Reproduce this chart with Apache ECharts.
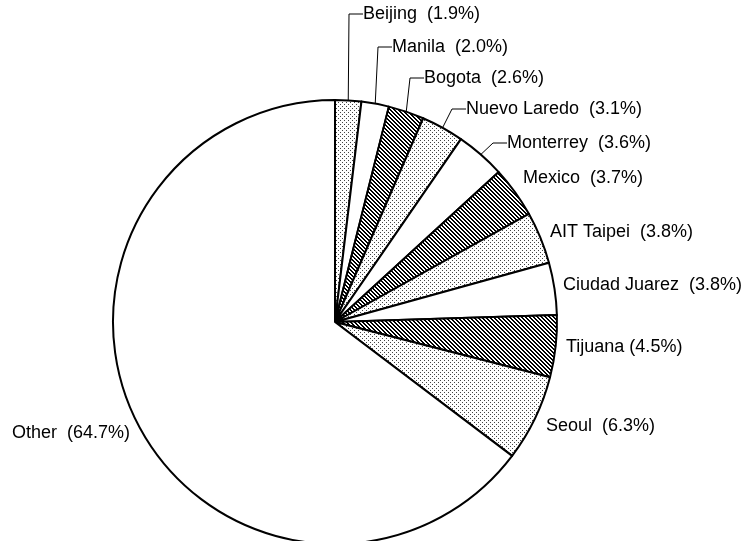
<!DOCTYPE html>
<html>
<head>
<meta charset="utf-8">
<script src="https://cdn.jsdelivr.net/npm/echarts@6/dist/echarts.min.js"></script>
<style>
html,body{margin:0;padding:0;background:#fff;}
#chart{width:745px;height:541px;}
</style>
</head>
<body>
<div id="chart"></div>
<script>
// Data
const categories = ['Beijing','Manila','Bogota','Nuevo Laredo','Monterrey','Mexico','AIT Taipei','Ciudad Juarez','Tijuana','Seoul','Other'];
const shares = [1.9, 2.0, 2.6, 3.1, 3.6, 3.7, 3.8, 3.8, 4.5, 6.3, 64.7];
const fills = ['dots','white','hatch','dots','white','hatch','dots','white','hatch','dots','white'];
const hasLine = [true, true, true, true, true, false, false, false, false, false, false];
const gap = ['  ','  ','  ','  ','  ','  ','  ','  ',' ','  ','  '];
// label anchors (left x, middle y)
const labelAnchor = [[363,14],[392,47],[424,78],[466,109],[507,143],[523,178],[550,232],[563,285],[566,347],[546,426],[12,433]];

function makePattern(kind){
  const c = document.createElement('canvas');
  c.width = 4; c.height = 4;
  const ctx = c.getContext('2d');
  ctx.fillStyle = '#fff';
  ctx.fillRect(0,0,4,4);
  if (kind === 'dots'){
    ctx.fillStyle = '#444';
    ctx.fillRect(0,0,1,1);
    ctx.fillRect(2,2,1,1);
  } else if (kind === 'hatch'){
    ctx.fillStyle = '#000';
    for (let i=0;i<4;i++){ ctx.fillRect(i,i,1,1); ctx.fillRect((i+1)%4,i,1,1); }
  }
  return c;
}
const patterns = { dots: makePattern('dots'), hatch: makePattern('hatch') };

const data = categories.map((name,i)=>({
  name: name,
  value: shares[i],
  itemStyle: { color: fills[i]==='white' ? '#ffffff' : { image: patterns[fills[i]], repeat: 'repeat' } },
  labelLine: { show: hasLine[i] }
}));

const chart = echarts.init(document.getElementById('chart'), null, {renderer:'canvas'});
chart.setOption({
  animation: false,
  backgroundColor: '#fff',
  series: [{
    type: 'pie',
    center: [335, 322],
    radius: 222,
    startAngle: 90,
    clockwise: true,
    avoidLabelOverlap: false,
    emphasis: { disabled: true },
    itemStyle: { borderColor: '#000', borderWidth: 2 },
    label: {
      show: true,
      position: 'outside',
      color: '#000',
      fontFamily: 'Liberation Sans, Arial, sans-serif',
      fontSize: 18,
      formatter: p => p.name + gap[p.dataIndex] + '(' + shares[p.dataIndex].toFixed(1) + '%)'
    },
    labelLine: { show: true, length: 10, length2: 14, smooth: false, lineStyle: { color: '#000', width: 1 } },
    labelLayout: function(params){
      const a = labelAnchor[params.dataIndex];
      return { x: a[0], y: a[1], align: 'left', verticalAlign: 'middle', hideOverlap: false, moveOverlap: null };
    },
    data: data
  }]
});
</script>
</body>
</html>
